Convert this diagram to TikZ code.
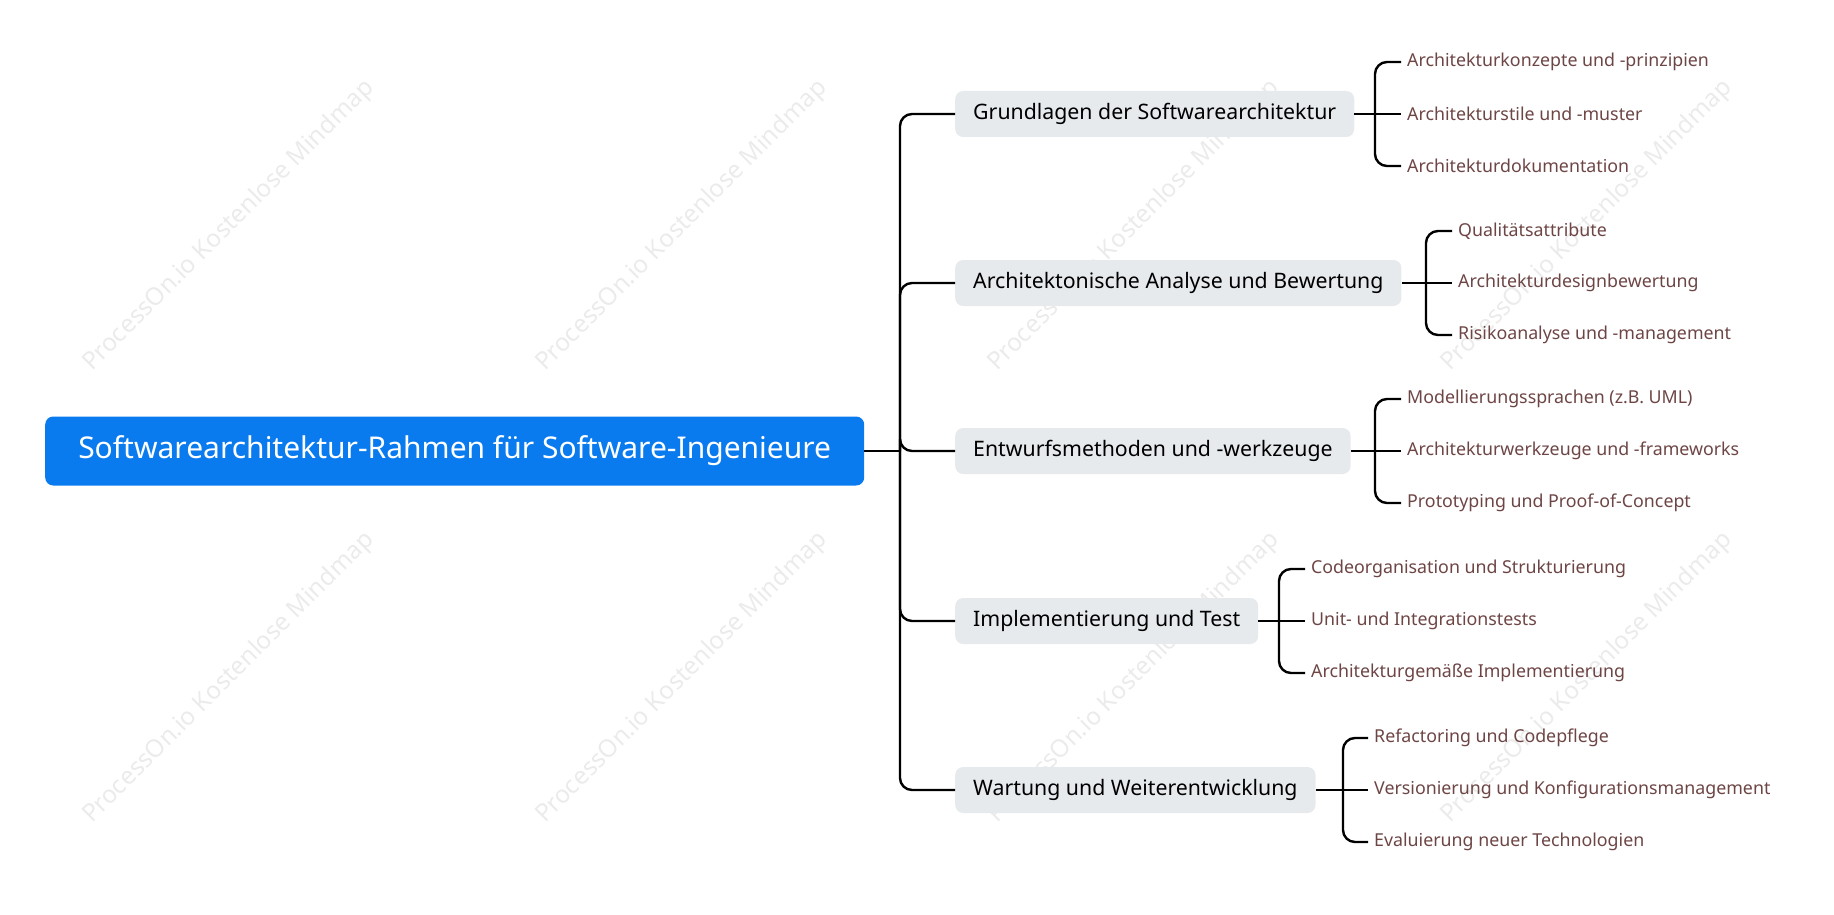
\documentclass[tikz,border=0pt]{standalone}
\usepackage{fontspec}
\setmainfont{Noto Sans}
\definecolor{rootc}{HTML}{0A7BEF}
\definecolor{catc}{HTML}{E7EAED}
\definecolor{leafc}{HTML}{6E4545}
\definecolor{wm}{HTML}{EBEBEB}
\begin{document}
\begin{tikzpicture}[x=1pt,y=-1pt,
  rootbox/.style={fill=rootc,rounded corners=8pt,text=white,font=\fontsize{30}{34}\selectfont,minimum height=69pt,anchor=west,inner xsep=24pt},
  catbox/.style={fill=catc,rounded corners=8pt,font=\fontsize{21.3}{25}\selectfont,minimum height=46pt,anchor=west,inner xsep=18pt},
  leaf/.style={text=leafc,font=\fontsize{17.8}{21}\selectfont,anchor=west,inner sep=0pt},
  conn/.style={draw,line width=2.4pt,rounded corners=12pt},
  wmk/.style={text=wm,font=\fontsize{24.5}{28}\selectfont,rotate=45}]
\useasboundingbox (0,0) rectangle (1834,915);
\foreach \x in {229,682,1134,1587}{\foreach \y in {226,678}{\node[wmk] at (\x,\y) {ProcessOn.io Kostenlose Mindmap};}}
\node[rootbox,minimum width=819pt] (root) at (45,451) {Softwarearchitektur-Rahmen für Software-Ingenieure};
\coordinate (tr) at (900,451);
\node[catbox] (c1) at (955,114) {Grundlagen der Softwarearchitektur};
\node[catbox] (c2) at (955,283) {Architektonische Analyse und Bewertung};
\node[catbox] (c3) at (955,451) {Entwurfsmethoden und -werkzeuge};
\node[catbox] (c4) at (955,621) {Implementierung und Test};
\node[catbox] (c5) at (955,790) {Wartung und Weiterentwicklung};
\draw[conn] (root.east) -- (tr);
\foreach \c in {c1,c2,c3,c4,c5}{\draw[conn] (tr) |- (\c.west);}
% leaves
\node[leaf] (l11) at (1407,62) {Architekturkonzepte und -prinzipien};
\node[leaf] (l12) at (1407,114) {Architekturstile und -muster};
\node[leaf] (l13) at (1407,166) {Architekturdokumentation};
\node[leaf] (l21) at (1458,231) {Qualitätsattribute};
\node[leaf] (l22) at (1458,283) {Architekturdesignbewertung};
\node[leaf] (l23) at (1458,335) {Risikoanalyse und -management};
\node[leaf] (l31) at (1407,399) {Modellierungssprachen (z.B. UML)};
\node[leaf] (l32) at (1407,451) {Architekturwerkzeuge und -frameworks};
\node[leaf] (l33) at (1407,503) {Prototyping und Proof-of-Concept};
\node[leaf] (l41) at (1311,569) {Codeorganisation und Strukturierung};
\node[leaf] (l42) at (1311,621) {Unit- und Integrationstests};
\node[leaf] (l43) at (1311,673) {Architekturgemäße Implementierung};
\node[leaf] (l51) at (1374,738) {Refactoring und Codepflege};
\node[leaf] (l52) at (1374,790) {Versionierung und Konfigurationsmanagement};
\node[leaf] (l53) at (1374,842) {Evaluierung neuer Technologien};
\foreach \c/\b/\l in {c1/1375/l1,c2/1426/l2,c3/1375/l3,c4/1279/l4,c5/1343/l5}{
  \coordinate (b) at (\b,0);
  \draw[conn] (\c.east) -- (b |- \c.east);
  \draw[conn] (b |- \c.east) |- ([xshift=-6pt]\l1.west);
  \draw[conn] (b |- \c.east) |- ([xshift=-6pt]\l3.west);
  \draw[conn] (b |- \c.east) -- ([xshift=-6pt]\l2.west);
}
\end{tikzpicture}
\end{document}
